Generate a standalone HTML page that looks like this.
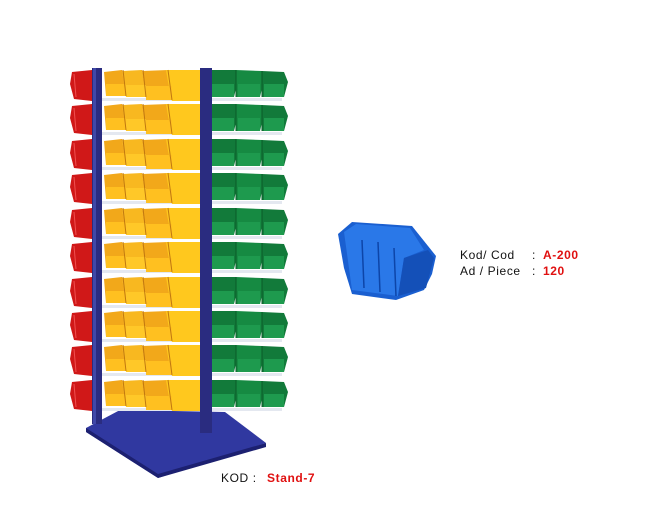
<!DOCTYPE html>
<html><head><style>
html,body{margin:0;padding:0;background:#fff;}
svg{display:block}
text{font-family:"Liberation Sans",Arial,sans-serif;font-size:12px;letter-spacing:0.6px}
</style></head><body>
<svg width="660" height="524" viewBox="0 0 660 524" xmlns="http://www.w3.org/2000/svg">
<defs>
<g id="row">
  <path d="M72,2 L92,0 L92,31 L74,29 L70,14 Z" fill="#d01818"/>
  <path d="M74,4 L76,27" stroke="#f05050" stroke-width="1"/>
  <rect x="102" y="28" width="98" height="3" fill="#e4e8f0"/>
  <rect x="212" y="28" width="70" height="3" fill="#e4e8f0"/>
  <path d="M104,2 L122,0 L126,24 L106,26 Z" fill="#f2a81a"/>
  <path d="M122,1 L142,0 L146,26 L126,27 Z" fill="#f8b820"/>
  <path d="M142,1 L168,0 L172,28 L146,28 Z" fill="#f2a81a"/>
  <path d="M166,0 L200,0 L200,31 L172,31 L168,12 Z" fill="#ffc81e"/>
  <path d="M106,14 L126,14 L126,26 L106,26 Z" fill="#ffc020"/>
  <path d="M126,15 L146,15 L146,27 L126,27 Z" fill="#ffc828"/>
  <path d="M146,16 L172,16 L172,30 L146,30 Z" fill="#ffc020"/>
  <path d="M123,0 L126,26 M143,0 L146,27 M168,0 L172,30" stroke="#c07810" stroke-width="1" fill="none"/>
  <path d="M212,0 L236,0 L238,10 L234,27 L212,27 Z" fill="#127a3a"/>
  <path d="M236,0 L262,1 L264,10 L260,27 L236,27 Z" fill="#168a42"/>
  <path d="M262,1 L284,2 L288,12 L284,27 L262,27 Z" fill="#127a3a"/>
  <path d="M212,14 L234,14 L234,27 L212,27 Z M238,14 L260,14 L260,27 L238,27 Z M264,14 L284,14 L284,27 L264,27 Z" fill="#1e9a4e"/>
  <path d="M236,0 L236,27 M262,1 L262,27" stroke="#0a5a28" stroke-width="1"/>
</g>
</defs>
<path d="M86,428 L120,410 L225,412 L266,443 L158,478 L86,432 Z" fill="#3038a0"/>
<path d="M86,432 L158,478 L266,447 L266,443 L158,474 L86,428 Z" fill="#1c2070"/>
<rect x="92" y="68" width="10" height="356" fill="#2a2c80"/>
<rect x="200" y="68" width="12" height="365" fill="#2a2c80"/>
<rect x="93" y="68" width="3" height="356" fill="#4048a8"/>
<use href="#row" y="70"/>
<use href="#row" y="104"/>
<use href="#row" y="139"/>
<use href="#row" y="173"/>
<use href="#row" y="208"/>
<use href="#row" y="242"/>
<use href="#row" y="277"/>
<use href="#row" y="311"/>
<use href="#row" y="345"/>
<use href="#row" y="380"/>
<path d="M338,234 L352,222 L412,226 L428,246 L436,256 L432,274 L424,290 L396,300 L352,294 L344,268 Z" fill="#1a5fd0"/>
<path d="M344,232 L356,224 L410,228 L424,250 L404,258 L398,296 L352,290 Z" fill="#2a78e8"/>
<path d="M404,258 L428,250 L434,258 L426,288 L398,296 Z" fill="#1450b8"/>
<path d="M362,240 L364,288 M378,242 L380,292 M394,248 L396,296" stroke="#0d45a8" stroke-width="1.5"/>
<text x="460" y="259" fill="#111">Kod/ Cod</text>
<text x="532" y="259" fill="#111">:</text>
<text x="543" y="259" fill="#e01010" font-weight="bold">A-200</text>
<text x="460" y="275" fill="#111">Ad / Piece</text>
<text x="532" y="275" fill="#111">:</text>
<text x="543" y="275" fill="#e01010" font-weight="bold">120</text>
<text x="221" y="482" fill="#111">KOD :</text>
<text x="267" y="482" fill="#e01010" font-weight="bold">Stand-7</text>
</svg>
</body></html>
